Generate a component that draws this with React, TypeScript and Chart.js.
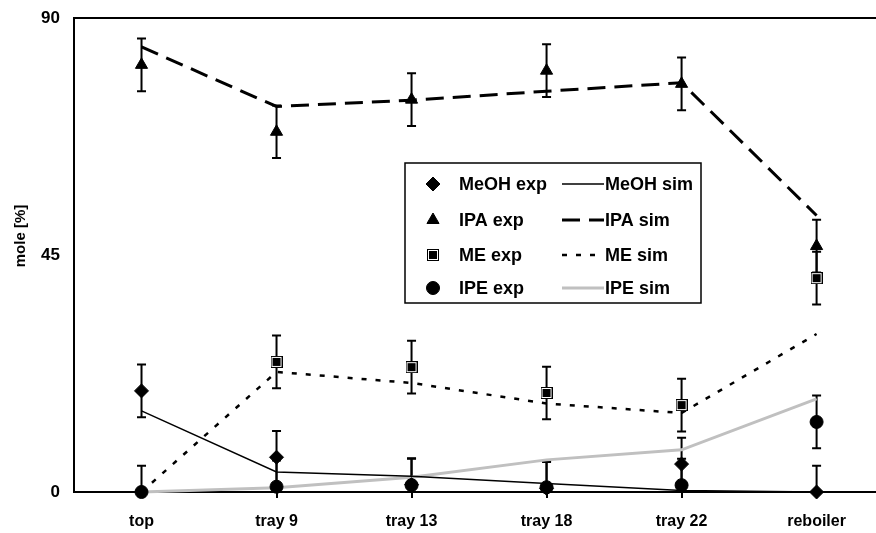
import React, { useEffect, useRef } from 'react';
import { Chart, registerables } from 'chart.js';
import { drawPoint } from 'chart.js/helpers';

Chart.register(...registerables);

const FONT = '"Liberation Sans", Arial, Helvetica, sans-serif';

const categories = ['top', 'tray 9', 'tray 13', 'tray 18', 'tray 22', 'reboiler'];
const yTicks = [0, 45, 90];
const yTitle = 'mole [%]';

const meohExp: (number | null)[] = [19.2, 6.6, 1.4, 0.7, 5.3, 0];
const ipaExp: (number | null)[] = [81.1, 68.4, 74.5, 80.0, 77.5, 46.7];
const meExp: (number | null)[] = [null, 24.7, 23.7, 18.8, 16.5, 40.6];
const ipeExp: (number | null)[] = [0, 1.0, 1.3, 0.9, 1.3, 13.3];

const meohErr = [5, 5, 5, 5, 5, 5];
const ipaErr = [5, 5, 5, 5, 5, 5];
const meErr = [5, 5, 5, 5, 5, 5];
const ipeErr = [5, 5, 5, 5, 5, 5];

const meohSim = [15.4, 3.8, 3.0, 1.6, 0.3, 0];
const ipaSim = [84.5, 73.2, 74.4, 76.1, 77.7, 52.5];
const meSim = [0, 22.8, 20.7, 16.8, 15.0, 30.0];
const ipeSim = [0, 0.8, 2.8, 6.1, 8.0, 17.7];

const expNames = ['MeOH exp', 'IPA exp', 'ME exp', 'IPE exp'];
const simNames = ['MeOH sim', 'IPA sim', 'ME sim', 'IPE sim'];

const toPts = (arr: (number | null)[]) => arr.map((v, i) => ({ x: i, y: v }));

function makeSquare(): HTMLCanvasElement {
  const c = document.createElement('canvas');
  c.width = 12;
  c.height = 12;
  const g = c.getContext('2d')!;
  g.fillStyle = '#000';
  g.fillRect(0, 0, 12, 12);
  g.strokeStyle = '#fff';
  g.lineWidth = 1;
  g.strokeRect(1.5, 1.5, 9, 9);
  g.fillStyle = '#000';
  g.fillRect(2, 2, 8, 8);
  return c;
}

export default function App() {
  const ref = useRef<HTMLCanvasElement>(null);

  useEffect(() => {
    document.body.style.margin = '0';
    const square = makeSquare();
    const errs = [meohErr, ipaErr, meErr, ipeErr];

    const errorBars = {
      id: 'errorBars',
      beforeDatasetsDraw(chart: any) {
        const { ctx, chartArea, scales } = chart;
        const x = scales.x;
        const y = scales.y;
        ctx.save();
        ctx.beginPath();
        ctx.rect(chartArea.left, 0, chartArea.right - chartArea.left, chartArea.bottom);
        ctx.clip();
        ctx.strokeStyle = '#000';
        ctx.lineWidth = 2;
        for (let d = 0; d < 4; d++) {
          const ds = chart.data.datasets[d];
          ds.data.forEach((p: any, i: number) => {
            if (p.y === null || p.y === undefined) return;
            const xp = x.getPixelForValue(p.x);
            const y1 = y.getPixelForValue(p.y + errs[d][i]);
            const y2 = y.getPixelForValue(p.y - errs[d][i]);
            ctx.beginPath();
            ctx.moveTo(xp, y1);
            ctx.lineTo(xp, y2);
            ctx.moveTo(xp - 4.5, y1);
            ctx.lineTo(xp + 4.5, y1);
            ctx.moveTo(xp - 4.5, y2);
            ctx.lineTo(xp + 4.5, y2);
            ctx.stroke();
          });
        }
        ctx.restore();
      },
    };

    const legendAndTitle = {
      id: 'legendAndTitle',
      afterDraw(chart: any) {
        const { ctx, chartArea } = chart;
        // y axis title
        ctx.save();
        ctx.fillStyle = '#000';
        ctx.font = `bold 15px ${FONT}`;
        ctx.textAlign = 'center';
        ctx.textBaseline = 'middle';
        ctx.translate(21, chartArea.top + (chartArea.bottom - chartArea.top) * 0.46);
        ctx.rotate(-Math.PI / 2);
        ctx.fillText(yTitle, 0, 0);
        ctx.restore();

        // legend box
        ctx.save();
        const bx = 405, by = 163, bw = 296, bh = 140;
        ctx.fillStyle = '#fff';
        ctx.fillRect(bx, by, bw, bh);
        ctx.strokeStyle = '#000';
        ctx.lineWidth = 1.5;
        ctx.strokeRect(bx, by, bw, bh);
        const rowY = [184, 220, 255, 288];
        ctx.font = `bold 18px ${FONT}`;
        ctx.textBaseline = 'middle';
        ctx.textAlign = 'left';
        for (let r = 0; r < 4; r++) {
          const exp = chart.data.datasets[r];
          const sim = chart.data.datasets[r + 4];
          const yy = rowY[r];
          ctx.fillStyle = '#000';
          ctx.strokeStyle = '#000';
          ctx.lineWidth = 1;
          drawPoint(ctx, { pointStyle: exp.pointStyle, radius: exp.pointRadius, rotation: 0, borderWidth: 1 } as any, 433, yy);
          ctx.fillStyle = '#000';
          ctx.fillText(expNames[r], 459, yy + 1);
          ctx.beginPath();
          ctx.strokeStyle = sim.borderColor;
          ctx.lineWidth = sim.borderWidth;
          ctx.setLineDash(sim.borderDash || []);
          ctx.moveTo(562, yy);
          ctx.lineTo(604, yy);
          ctx.stroke();
          ctx.setLineDash([]);
          ctx.fillStyle = '#000';
          ctx.fillText(simNames[r], 605, yy + 1);
        }
        ctx.restore();
      },
    };

    const expBase = {
      showLine: false,
      backgroundColor: '#000',
      borderColor: '#000',
      borderWidth: 1,
      clip: false,
    };
    const simBase = {
      showLine: true,
      pointRadius: 0,
      pointHoverRadius: 0,
      tension: 0,
      fill: false,
      clip: 4,
    };

    const chart = new Chart(ref.current!, {
      type: 'scatter',
      data: {
        datasets: [
          { ...expBase, label: expNames[0], data: toPts(meohExp), pointStyle: 'rectRot', pointRadius: 7, order: 1 },
          { ...expBase, label: expNames[1], data: toPts(ipaExp), pointStyle: 'triangle', pointRadius: 7, order: 3 },
          { ...expBase, label: expNames[2], data: toPts(meExp), pointStyle: square as any, pointRadius: 6, order: 2 },
          { ...expBase, label: expNames[3], data: toPts(ipeExp), pointStyle: 'circle', pointRadius: 6.5, order: 0 },
          { ...simBase, label: simNames[0], data: toPts(meohSim), borderColor: '#000', borderWidth: 1.5, order: 5 },
          { ...simBase, label: simNames[1], data: toPts(ipaSim), borderColor: '#000', borderWidth: 3, borderDash: [18, 9], order: 6 },
          { ...simBase, label: simNames[2], data: toPts(meSim), borderColor: '#000', borderWidth: 2.5, borderDash: [5, 9], order: 7 },
          { ...simBase, label: simNames[3], data: toPts(ipeSim), borderColor: '#c0c0c0', borderWidth: 3, order: 8 },
        ] as any,
      },
      options: {
        responsive: false,
        animation: false,
        layout: { autoPadding: false, padding: { top: 18, right: 0, left: 0, bottom: 0 } },
        plugins: { legend: { display: false }, tooltip: { enabled: false } },
        scales: {
          x: {
            type: 'linear',
            min: -0.5,
            max: 5.44,
            afterBuildTicks: (s: any) => {
              s.ticks = categories.map((_, i) => ({ value: i }));
            },
            afterFit: (s: any) => {
              s.height = 41;
              s.paddingLeft = 0;
              s.paddingRight = 0;
            },
            ticks: {
              callback: (v: any) => categories[v] ?? '',
              font: { family: FONT, size: 16, weight: 'bold' },
              color: '#000',
              padding: 14,
              maxRotation: 0,
              autoSkip: false,
            },
            grid: { drawOnChartArea: false, drawTicks: true, tickLength: 6, color: '#000', lineWidth: 2 },
            border: { display: true, color: '#000', width: 2 },
          },
          y: {
            min: 0,
            max: 90,
            afterBuildTicks: (s: any) => {
              s.ticks = yTicks.map((v) => ({ value: v }));
            },
            afterFit: (s: any) => {
              s.width = 74;
              s.paddingTop = 0;
              s.paddingBottom = 0;
            },
            ticks: {
              font: { family: FONT, size: 17, weight: 'bold' },
              color: '#000',
              padding: 14,
            },
            grid: {
              drawTicks: false,
              color: (c: any) => (c.tick && c.tick.value === 90 ? '#000' : 'rgba(0,0,0,0)'),
              lineWidth: 2,
            },
            border: { display: true, color: '#000', width: 2 },
          },
        },
      } as any,
      plugins: [errorBars, legendAndTitle],
    });
    return () => chart.destroy();
  }, []);

  return (
    <div style={{ width: 876, height: 533 }}>
      <canvas ref={ref} width={876} height={533} style={{ display: 'block' }} />
    </div>
  );
}
